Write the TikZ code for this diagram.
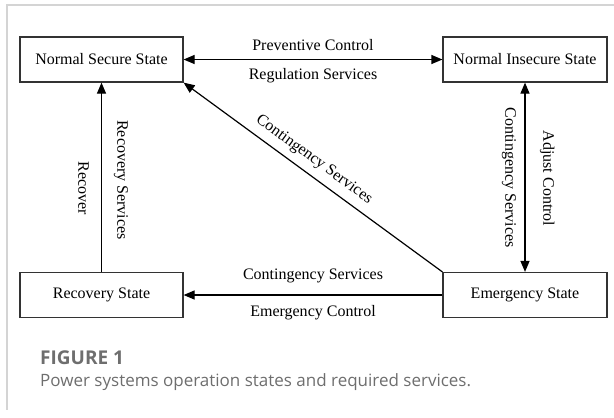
\documentclass[tikz,border=0pt]{standalone}
\usepackage{fontspec}
\setmainfont{Liberation Serif}
\newfontfamily\capfont{Open Sans}
\usetikzlibrary{arrows.meta}
\definecolor{boxline}{HTML}{333333}
\definecolor{framegrey}{HTML}{D4D4D4}
\definecolor{capgrey}{HTML}{6E6E6E}
\begin{document}
\begin{tikzpicture}[x=1bp, y=-1bp,
  statebox/.style={draw=boxline, line width=1.2bp, rectangle, inner sep=0pt,
    minimum width=163bp, minimum height=45bp, font=\fontsize{16bp}{19bp}\selectfont},
  lbl/.style={inner sep=0pt, text height=11bp, text depth=3.5bp,
    font=\fontsize{16bp}{19bp}\selectfont},
  vlbl/.style={lbl, rotate=-90},
  link/.style={line width=1.2bp, -{Triangle[length=11bp,width=9bp]}},
  twoway/.style={line width=1.2bp, {Triangle[length=11bp,width=9bp]}-{Triangle[length=11bp,width=9bp]}},
]
\useasboundingbox (0,0) rectangle (614,417);
% light page frame (top and left edges)
\draw[framegrey, line width=1.5bp] (614,5) -- (7,5) -- (7,410);

% operating states
\node[statebox] (nss) at (101.5,59.5) {Normal Secure State};
\node[statebox, minimum width=164bp] (nis) at (525,59.5) {Normal Insecure State};
\node[statebox] (rs) at (101.5,295) {Recovery State};
\node[statebox, minimum width=164bp] (es) at (525,295) {Emergency State};

% transitions
\draw[twoway] (nss) -- (nis);
\draw[twoway] (nis) -- (es);
\draw[link] (rs) -- (nss);
\draw[link] (es) -- (rs);
\draw[link] (es.north west) -- (nss.south east)
  node[lbl, pos=0.53, sloped, above=7bp] (diag) {Contingency Services};

% transition labels
\node[lbl] (pc) at (313,47) {Preventive Control};
\node[lbl] (regs) at (313,76) {Regulation Services};
\node[lbl] (bcs) at (313,276) {Contingency Services};
\node[lbl] (ec) at (313,313) {Emergency Control};
\node[vlbl] (rec) at (82,188) {Recover};
\node[vlbl] (recs) at (121,180) {Recovery Services};
\node[vlbl] (rcs) at (509,177.5) {Contingency Services};
\node[vlbl] (adj) at (547,178.5) {Adjust Control};

% caption
\node[anchor=west, inner sep=0pt, text=capgrey,
  font=\capfont\bfseries\fontsize{19bp}{22bp}\selectfont] (fig) at (40,358) {FIGURE 1};
\node[anchor=west, inner sep=0pt, text=capgrey,
  font=\capfont\fontsize{17bp}{20bp}\selectfont] (cap) at (40,382)
  {Power systems operation states and required services.};
\end{tikzpicture}
\end{document}
